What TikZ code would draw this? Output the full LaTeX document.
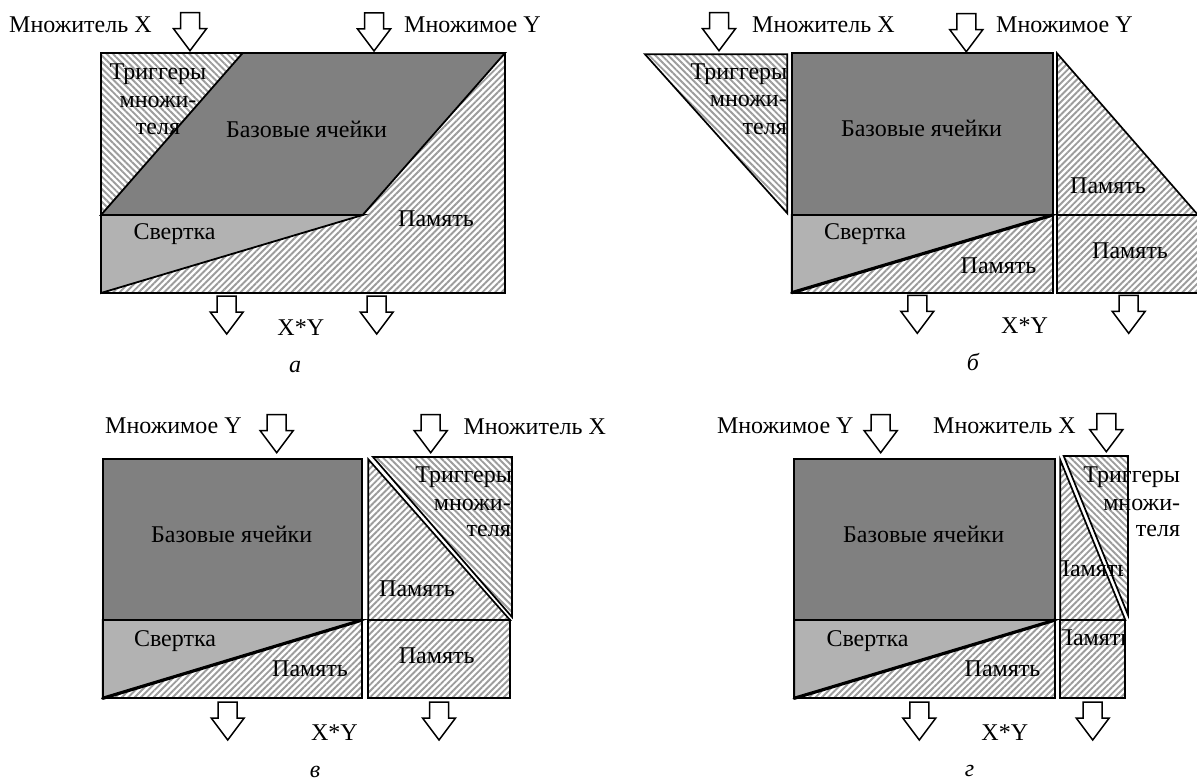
\documentclass[tikz,border=0pt]{standalone}
\usepackage{fontspec}
\setmainfont{Liberation Serif}
\usetikzlibrary{patterns.meta}
\definecolor{basegray}{HTML}{808080}
\definecolor{convgray}{HTML}{B2B2B2}
\definecolor{hatchgray}{HTML}{9C9C9C}
\begin{document}
\begin{tikzpicture}[x=1pt,y=-1pt,
  lbl/.style={inner sep=0pt, font=\fontsize{24}{28}\selectfont},
  figlbl/.style={inner sep=0pt, font=\fontsize{24}{28}\selectfont\itshape},
  outl/.style={draw=black, line width=1.7pt, line join=miter},
  cellfill/.style={fill=basegray, draw=black, line width=1.8pt, line join=miter},
  convfill/.style={fill=convgray, draw=black, line width=1.8pt, line join=miter},
  mem/.style={preaction={fill=white}, pattern={Lines[angle=45,distance=4.5pt,line width=1.9pt]}, pattern color=hatchgray},
  trg/.style={preaction={fill=white}, pattern={Lines[angle=-45,distance=4.5pt,line width=1.9pt]}, pattern color=hatchgray},
  diagline/.style={draw=black, line width=3.2pt, line cap=round},
  downarr/.pic={\draw[fill=white, line width=1.5pt, line join=miter] (0,0) -- (-16.5,-22) -- (-9.5,-22) -- (-9.5,-38) -- (9.5,-38) -- (9.5,-22) -- (16.5,-22) -- cycle;}
]
\useasboundingbox[fill=white] (0,0) rectangle (1197,781);

% ================= panel a =================
\path[mem] (101,53) rectangle (505,293);
\path[trg] (101,53) -- (242.7,53) -- (101,215) -- cycle;
\path[cellfill] (242.7,53) -- (505,53) -- (362.7,215) -- (101,215) -- cycle;
\path[convfill] (101,215) -- (362.7,215) -- (101,293) -- cycle;
\draw[outl] (101,53) rectangle (505,293);
\pic at (190,50.7) {downarr};
\pic at (374,51) {downarr};
\pic at (226.7,334) {downarr};
\pic at (376.7,334) {downarr};
\node[lbl, anchor=base west] (amx) at (9,33) {Множитель X};
\node[lbl, anchor=base west] (amy) at (404,33) {Множимое Y};
\node[lbl, anchor=base] (at1) at (158,80) {Триггеры};
\node[lbl, anchor=base] (at2) at (158,108) {множи-};
\node[lbl, anchor=base] (at3) at (158,135) {теля};
\node[lbl, anchor=base] (abase) at (306.5,137.3) {Базовые ячейки};
\node[lbl, anchor=base] (amem) at (436,226.7) {Память};
\node[lbl, anchor=base] (aconv) at (174.5,239.3) {Свертка};
\node[lbl, anchor=base] (axy) at (300.8,335) {X*Y};
\node[figlbl, anchor=base] (acap) at (295,372) {а};

% ================= panel b =================
\draw[trg, outl] (645,54.3) -- (787.3,54.3) -- (787.3,213.3) -- cycle;
\node[lbl, anchor=base east] (bt1) at (787.5,80) {Триггеры};
\node[lbl, anchor=base east] (bt2) at (787,107) {множи-};
\node[lbl, anchor=base east] (bt3) at (787,135) {теля};
\path[cellfill] (791.7,53.3) rectangle (1053,215);
\path[convfill] (791.7,215) -- (1053,215) -- (791.7,292.7) -- cycle;
\path[mem] (1053,215) -- (1053,292.7) -- (791.7,292.7) -- cycle;
\draw[outl] (791.7,53.3) rectangle (1053,292.7);
\draw[diagline] (791.7,292.7) -- (1053,215);
\draw[mem, outl] (1057,53.3) -- (1198,215) -- (1057,215) -- cycle;
\draw[mem, outl] (1057,215) rectangle (1198,292.7);
\pic at (719,50.7) {downarr};
\pic at (966.3,51.7) {downarr};
\pic at (917.3,333.3) {downarr};
\pic at (1128.7,333.3) {downarr};
\node[lbl, anchor=base west] (bmx) at (752,33) {Множитель X};
\node[lbl, anchor=base west] (bmy) at (996,33) {Множимое Y};
\node[lbl, anchor=base] (bbase) at (921.5,136.7) {Базовые ячейки};
\node[lbl, anchor=base] (bconv) at (865,239.3) {Свертка};
\node[lbl, anchor=base] (bmem1) at (998.5,273.3) {Память};
\node[lbl, anchor=base] (bmem2) at (1108,193.3) {Память};
\node[lbl, anchor=base] (bmem3) at (1130,258.3) {Память};
\node[lbl, anchor=base] (bxy) at (1024.5,333.3) {X*Y};
\node[figlbl, anchor=base] (bcap) at (973,370.7) {б};

% ================= panel c =================
\path[cellfill] (102.7,459.3) rectangle (362.3,620);
\path[convfill] (102.7,620) -- (362.3,620) -- (102.7,698.3) -- cycle;
\path[mem] (362.3,620) -- (362.3,698.3) -- (102.7,698.3) -- cycle;
\draw[outl] (102.7,459.3) rectangle (362.3,698.3);
\draw[diagline] (102.7,698.3) -- (362.3,620);
\draw[mem, outl] (368.3,459.3) -- (510,620) -- (368.3,620) -- cycle;
\draw[trg, outl] (373,457) -- (512,457) -- (512,617) -- cycle;
\draw[mem, outl] (368.3,620) rectangle (510,698.3);
\pic at (276.7,452.7) {downarr};
\pic at (430.7,452.7) {downarr};
\pic at (227.7,740) {downarr};
\pic at (439,740) {downarr};
\node[lbl, anchor=base west] (cmy) at (105,433.3) {Множимое Y};
\node[lbl, anchor=base west] (cmx) at (463.3,434.3) {Множитель X};
\node[lbl, anchor=base] (cbase) at (231.7,542.7) {Базовые ячейки};
\node[lbl, anchor=base] (cconv) at (175,646) {Свертка};
\node[lbl, anchor=base] (cmem1) at (310,676.7) {Память};
\node[lbl, anchor=base east] (ct1) at (512.2,482.7) {Триггеры};
\node[lbl, anchor=base east] (ct2) at (511,510) {множи-};
\node[lbl, anchor=base east] (ct3) at (511,536.7) {теля};
\node[lbl, anchor=base] (cmem2) at (417,596.7) {Память};
\node[lbl, anchor=base] (cmem3) at (436.7,663.3) {Память};
\node[lbl, anchor=base] (cxy) at (334.5,740) {X*Y};
\node[figlbl, anchor=base] (ccap) at (315,777.7) {в};

% ================= panel d =================
\path[cellfill] (794.2,459.3) rectangle (1055.3,620);
\path[convfill] (794.2,620) -- (1055.3,620) -- (794.2,698.3) -- cycle;
\path[mem] (1055.3,620) -- (1055.3,698.3) -- (794.2,698.3) -- cycle;
\draw[outl] (794.2,459.3) rectangle (1055.3,698.3);
\draw[diagline] (794.2,698.3) -- (1055.3,620);
\draw[mem, outl] (1060.3,460) -- (1125.3,620) -- (1060.3,620) -- cycle;
\draw[trg, outl] (1063.7,456) -- (1128,456) -- (1128,615) -- cycle;
\draw[mem, outl] (1060.3,620) rectangle (1125.3,698.3);
\pic at (880.7,452.7) {downarr};
\pic at (1106.3,451.7) {downarr};
\pic at (919.3,740) {downarr};
\pic at (1092.7,740) {downarr};
\node[lbl, anchor=base east] (dmy) at (853.7,433.3) {Множимое Y};
\node[lbl, anchor=base west] (dmx) at (933,433.3) {Множитель X};
\node[lbl, anchor=base] (dbase) at (923.7,542.7) {Базовые ячейки};
\node[lbl, anchor=base] (dconv) at (867.5,646) {Свертка};
\node[lbl, anchor=base] (dmem1) at (1002.5,676.7) {Память};
\node[lbl, anchor=base east] (dt1) at (1180.3,482.7) {Триггеры};
\node[lbl, anchor=base east] (dt2) at (1180.3,510) {множи-};
\node[lbl, anchor=base east] (dt3) at (1180.3,536.7) {теля};
\begin{scope}
  \clip (1060.3,540) rectangle (1122,600);
  \node[lbl, anchor=base] (dmem2) at (1090.5,576.7) {Память};
\end{scope}
\begin{scope}
  \clip (1062,625) rectangle (1125.3,690);
  \node[lbl, anchor=base] (dmem3) at (1093.5,645) {Память};
\end{scope}
\node[lbl, anchor=base] (dxy) at (1004.8,740) {X*Y};
\node[figlbl, anchor=base] (dcap) at (969.5,776.7) {г};
\end{tikzpicture}
\end{document}
